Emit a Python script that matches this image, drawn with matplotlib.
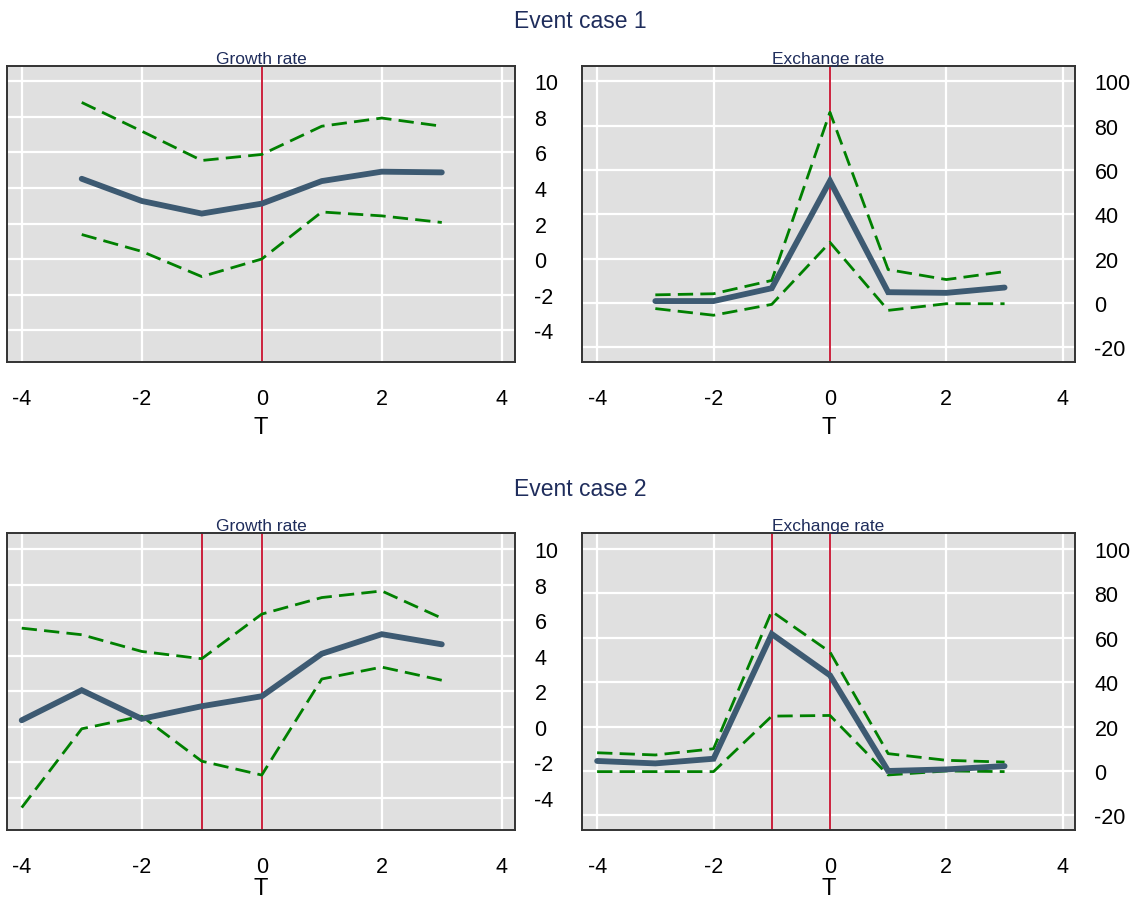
import matplotlib
matplotlib.use("Agg")
import matplotlib.pyplot as plt

plt.rcParams['font.family'] = ['Liberation Sans', 'DejaVu Sans']

# ---------------- data ----------------
T1 = [-3, -2, -1, 0, 1, 2, 3]
T2 = [-4, -3, -2, -1, 0, 1, 2, 3]

growth1_est = [4.52, 3.27, 2.56, 3.12, 4.39, 4.92, 4.88]
growth1_hi = [8.82, 7.20, 5.55, 5.89, 7.48, 7.94, 7.48]
growth1_lo = [1.38, 0.43, -0.99, 0.00, 2.65, 2.43, 2.06]

exch1_est = [0.9, 0.9, 6.7, 55.1, 4.9, 4.6, 7.0]
exch1_hi = [3.7, 4.2, 10.2, 86.1, 15.1, 10.6, 14.2]
exch1_lo = [-2.5, -5.5, -0.6, 27.4, -3.3, -0.3, -0.3]

growth2_est = [0.37, 2.06, 0.45, 1.16, 1.72, 4.11, 5.21, 4.64]
growth2_hi = [5.55, 5.18, 4.24, 3.83, 6.34, 7.27, 7.64, 6.11]
growth2_lo = [-4.54, -0.11, 0.60, -1.93, -2.71, 2.69, 3.36, 2.62]

exch2_est = [4.5, 3.4, 5.5, 61.7, 43.1, 0.0, 0.7, 2.2]
exch2_hi = [8.2, 7.2, 10.0, 71.9, 53.6, 7.8, 4.8, 4.0]
exch2_lo = [-0.3, -0.3, -0.3, 24.7, 25.0, -1.8, 0.0, -0.3]

event_lines1 = [0]
event_lines2 = [-1, 0]

x_ticks = [-4, -2, 0, 2, 4]
growth_ticks = [-4, -2, 0, 2, 4, 6, 8, 10]
exch_ticks = [-20, 0, 20, 40, 60, 80, 100]

row_titles = ["Event case 1", "Event case 2"]
panel_titles = ["Growth rate", "Exchange rate"]

# ---------------- style ----------------
BG = '#e0e0e0'
EST_C = '#3d5a72'
CI_C = '#008000'
EV_C = '#c8102e'
TITLE_C = '#1f2d5c'

W, H = 1136, 904
fig = plt.figure(figsize=(W / 100, H / 100), dpi=100)


def px_axes(l, t, r, b):
    return fig.add_axes([l / W, 1 - b / H, (r - l) / W, (b - t) / H])


def draw(ax, T, est, hi, lo, events, yticks, ylim, xlim, title, xlpad):
    ax.set_facecolor(BG)
    ax.set_xlim(*xlim)
    ax.set_ylim(*ylim)
    ax.set_xticks(x_ticks)
    ax.set_yticks(yticks)
    ax.grid(True, color='white', linewidth=1.6)
    ax.set_axisbelow(True)
    for ev in events:
        ax.axvline(ev, color=EV_C, linewidth=1.3, zorder=2)
    ax.plot(T, hi, color=CI_C, linewidth=2.0, dashes=(5.5, 2.6), zorder=3)
    ax.plot(T, lo, color=CI_C, linewidth=2.0, dashes=(5.5, 2.6), zorder=3)
    ax.plot(T, est, color=EST_C, linewidth=4.2, solid_capstyle='round',
            solid_joinstyle='miter', zorder=4)
    ax.yaxis.tick_right()
    ax.tick_params(axis='y', length=0, pad=14, labelsize=15.5)
    ax.tick_params(axis='x', length=0, pad=19, labelsize=15.5)
    ax.set_yticklabels([str(v) for v in yticks])
    ax.set_xticklabels([str(v) for v in x_ticks])
    ax.set_xlabel('T', fontsize=17, labelpad=xlpad)
    for s in ax.spines.values():
        s.set_color('#333333')
        s.set_linewidth(1.4)
    ax.set_title(title, fontsize=12.5, color=TITLE_C, pad=1)


GR_XLIM = (-4.245, 4.22)
EX_XLIM = (-4.26, 4.21)
GR_YLIM = (-5.8, 10.9)
EX_YLIM = (-26.6, 107.2)

# row 1
a1 = px_axes(7, 66.5, 515, 363)
draw(a1, T1, growth1_est, growth1_hi, growth1_lo, event_lines1,
     growth_ticks, GR_YLIM, GR_XLIM, panel_titles[0], 5)
a2 = px_axes(582, 66.5, 1075, 363)
draw(a2, T1, exch1_est, exch1_hi, exch1_lo, event_lines1,
     exch_ticks, EX_YLIM, EX_XLIM, panel_titles[1], 5)
fig.text(580 / W, 1 - 21 / H, row_titles[0], ha='center', va='center',
         fontsize=16.5, color=TITLE_C)

# row 2
a3 = px_axes(7, 534, 515, 831)
draw(a3, T2, growth2_est, growth2_hi, growth2_lo, event_lines2,
     growth_ticks, GR_YLIM, GR_XLIM, panel_titles[0], 0)
a4 = px_axes(582, 534, 1075, 831)
draw(a4, T2, exch2_est, exch2_hi, exch2_lo, event_lines2,
     exch_ticks, EX_YLIM, EX_XLIM, panel_titles[1], 0)
fig.text(580 / W, 1 - 490 / H, row_titles[1], ha='center', va='center',
         fontsize=16.5, color=TITLE_C)

fig.savefig('out.png', dpi=100)
